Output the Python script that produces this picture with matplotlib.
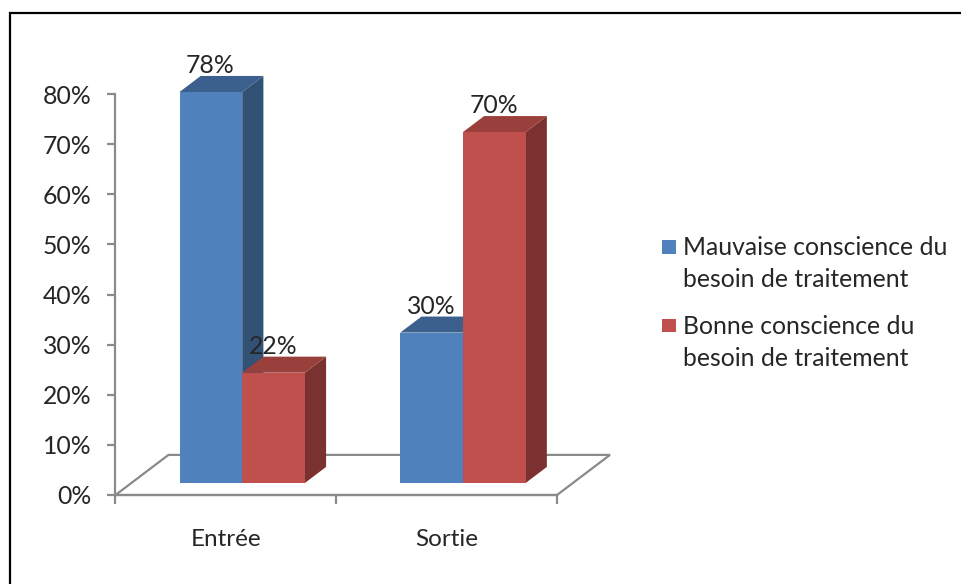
import numpy as np
import matplotlib
matplotlib.use("Agg")
import matplotlib.pyplot as plt
from matplotlib.patches import Polygon, Rectangle

plt.rcParams['font.family'] = ['Lato', 'DejaVu Sans']

categories = ["Entrée", "Sortie"]
mauvaise = [78, 30]
bonne = [22, 70]
series_names = ["Mauvaise conscience du\nbesoin de traitement", "Bonne conscience du\nbesoin de traitement"]
y_ticks = [0, 10, 20, 30, 40, 50, 60, 70, 80]

W, H = 962, 584
fig = plt.figure(figsize=(W / 100, H / 100), dpi=100)
ax = fig.add_axes([115.5 / W, (H - 495) / H, 441.5 / W, 401 / H])
ax.set_xlim(0, 2)
ax.set_ylim(0, 80)
ax.patch.set_alpha(0)

# pseudo 3D: depth 0..1 moves a point back along the floor
depth_x = 0.24
depth_y = 8.0


def project(x, y, d):
    return x + d * depth_x, y + d * depth_y


grey = "#8a8a8a"
floor = [project(0, 0, 0), project(0, 0, 1), project(2, 0, 1), project(2, 0, 0)]
ax.add_patch(Polygon(floor, closed=True, fill=False, edgecolor=grey, linewidth=1.6, zorder=1, clip_on=False))

front_d, back_d = 0.3, 0.7
bar_w = 0.284
gap = 0.218
colors = [("#4f81bd", "#3b608d", "#325275"), ("#c0504d", "#99403d", "#7b312f")]
all_values = [mauvaise, bonne]

for s in range(2):
    face, top, side = colors[s]
    xs = [i + gap + s * bar_w for i in range(len(categories))]
    # side and top faces first, so that the next series covers them
    for x0, v in zip(xs, all_values[s]):
        x1 = x0 + bar_w
        ax.add_patch(Polygon([project(x1, 0, front_d), project(x1, 0, back_d), project(x1, v, back_d), project(x1, v, front_d)],
                             closed=True, facecolor=side, edgecolor="none", zorder=2 + s, clip_on=False))
        ax.add_patch(Polygon([project(x0, v, front_d), project(x0, v, back_d), project(x1, v, back_d), project(x1, v, front_d)],
                             closed=True, facecolor=top, edgecolor="none", zorder=2 + s, clip_on=False))
    fx, fy = project(0, 0, front_d)
    ax.bar([x + fx for x in xs], all_values[s], width=bar_w, bottom=fy, align='edge', color=face,
           label=series_names[s], zorder=2.5 + s, clip_on=False)
    for x, v in zip(xs, all_values[s]):
        ax.annotate(f"{v}%", xy=(x + fx + bar_w / 2, v + fy), xytext=(-0.5, 13.5), textcoords='offset points',
                    ha='center', va='baseline', fontsize=17.8, color="#262626", zorder=10, annotation_clip=False)

for name in ['top', 'right']:
    ax.spines[name].set_visible(False)
for name in ['left', 'bottom']:
    ax.spines[name].set_color(grey)
    ax.spines[name].set_linewidth(1.6)

ax.set_yticks(y_ticks)
ax.set_yticklabels([f"{v}%" for v in y_ticks], fontsize=17.8, color="#262626")
ax.tick_params(axis='y', length=6, width=1.6, color=grey, pad=11.5)
ax.set_xticks([0, 1, 2])
ax.set_xticklabels([])
ax.tick_params(axis='x', which='major', length=6.5, width=1.6, color=grey)
ax.set_xticks([0.5, 1.5], minor=True)
ax.set_xticklabels(categories, minor=True, fontsize=17.5, color="#262626")
ax.tick_params(axis='x', which='minor', length=0, pad=24.5)

leg = ax.legend(loc='upper left', bbox_to_anchor=(662 / W, (H - 236) / H), bbox_transform=fig.transFigure, frameon=False,
                fontsize=17.8, labelcolor="#262626", handlelength=0.57, handleheight=0.57, handletextpad=0.28,
                labelspacing=0.96, borderpad=0, borderaxespad=0)
for t in leg.get_texts():
    t.set_linespacing(1.48)
# keys sit on the first line of each label, not in the middle of the block
for p in leg.get_patches():
    p.set_width(10)
    p.set_height(10)
    p.set_y(14)

fig.add_artist(Rectangle((9.5 / W, -0.01), 1, (H - 12.5) / H + 0.01, transform=fig.transFigure, fill=False,
                         edgecolor="black", linewidth=1.6))

fig.savefig("out.png", dpi=100)
